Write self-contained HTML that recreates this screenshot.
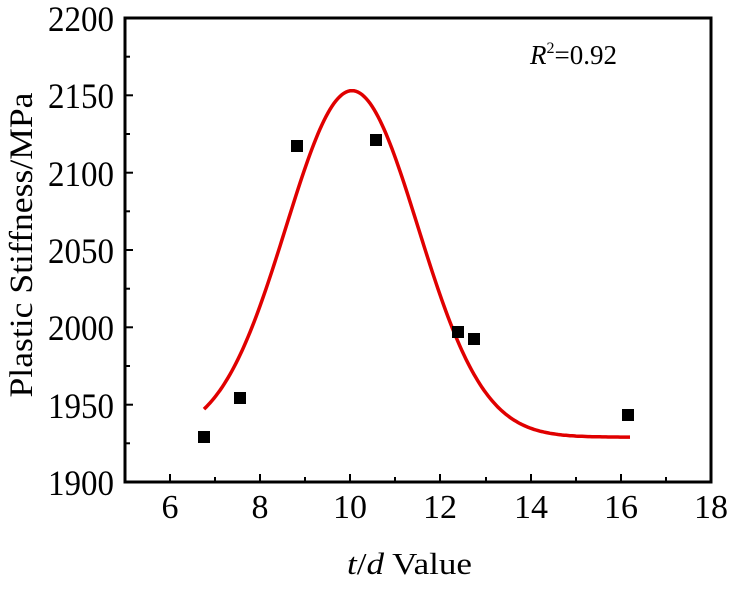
<!DOCTYPE html>
<html><head><meta charset="utf-8"><style>body{margin:0;background:#fff}</style></head><body>
<svg width="748" height="586" xmlns="http://www.w3.org/2000/svg" font-family="Liberation Serif, serif">
<rect x="0" y="0" width="748" height="586" fill="#fff"/>
<g stroke="#000" stroke-width="2">
<line x1="125" y1="482" x2="125" y2="474"/><line x1="170" y1="482" x2="170" y2="474"/><line x1="215" y1="482" x2="215" y2="477"/><line x1="260" y1="482" x2="260" y2="474"/><line x1="305" y1="482" x2="305" y2="477"/><line x1="350" y1="482" x2="350" y2="474"/><line x1="395" y1="482" x2="395" y2="477"/><line x1="440" y1="482" x2="440" y2="474"/><line x1="486" y1="482" x2="486" y2="477"/><line x1="531" y1="482" x2="531" y2="474"/><line x1="576" y1="482" x2="576" y2="477"/><line x1="621" y1="482" x2="621" y2="474"/><line x1="666" y1="482" x2="666" y2="477"/>
<line x1="125" y1="95.3" x2="133" y2="95.3"/><line x1="125" y1="172.7" x2="133" y2="172.7"/><line x1="125" y1="250" x2="133" y2="250"/><line x1="125" y1="327.3" x2="133" y2="327.3"/><line x1="125" y1="404.7" x2="133" y2="404.7"/>
<line x1="125" y1="56.7" x2="130" y2="56.7"/><line x1="125" y1="134" x2="130" y2="134"/><line x1="125" y1="211.3" x2="130" y2="211.3"/><line x1="125" y1="288.7" x2="130" y2="288.7"/><line x1="125" y1="366" x2="130" y2="366"/><line x1="125" y1="443.3" x2="130" y2="443.3"/>
</g>
<rect x="125" y="18" width="586" height="464" fill="none" stroke="#000" stroke-width="3"/>
<g font-size="34" text-anchor="middle">
<text x="170" y="518">6</text><text x="260" y="518">8</text><text x="350" y="518">10</text><text x="440" y="518">12</text><text x="531" y="518">14</text><text x="621" y="518">16</text><text x="711" y="518">18</text>
</g>
<g font-size="36">
<text x="48" y="31" textLength="66" lengthAdjust="spacingAndGlyphs">2200</text><text x="48" y="108" textLength="66" lengthAdjust="spacingAndGlyphs">2150</text><text x="48" y="186" textLength="66" lengthAdjust="spacingAndGlyphs">2100</text><text x="48" y="263" textLength="66" lengthAdjust="spacingAndGlyphs">2050</text><text x="48" y="340" textLength="66" lengthAdjust="spacingAndGlyphs">2000</text><text x="48" y="418" textLength="66" lengthAdjust="spacingAndGlyphs">1950</text><text x="48" y="495" textLength="66" lengthAdjust="spacingAndGlyphs">1900</text>
</g>
<text x="347" y="574" font-size="31" textLength="125" lengthAdjust="spacingAndGlyphs"><tspan font-style="italic">t</tspan>/<tspan font-style="italic">d</tspan> Value</text>
<text transform="translate(32,245) rotate(-90)" font-size="33" text-anchor="middle" textLength="305" lengthAdjust="spacingAndGlyphs">Plastic Stiffness/MPa</text>
<text x="530" y="64" font-size="27"><tspan font-style="italic">R</tspan><tspan font-size="16" dy="-11">2</tspan><tspan dy="11">=0.92</tspan></text>
<polyline id="c" fill="none" stroke="#e00000" stroke-width="3.5" points=""/>
<g fill="#000">
<rect x="198" y="431" width="12" height="12"/><rect x="234" y="392" width="12" height="12"/><rect x="291" y="140" width="12" height="12"/><rect x="370" y="134" width="12" height="12"/><rect x="452" y="326" width="12" height="12"/><rect x="468" y="333" width="12" height="12"/><rect x="622" y="409" width="12" height="12"/>
</g>
<script>
var p=[];for(var x=204;x<=630;x+=2){var v=1929+224*Math.exp(-Math.pow(x-352,2)/(2*66*66));p.push(x+","+(482-(v-1900)*1.5467).toFixed(1));}
document.getElementById("c").setAttribute("points",p.join(" "));
</script>
</svg>
</body></html>
